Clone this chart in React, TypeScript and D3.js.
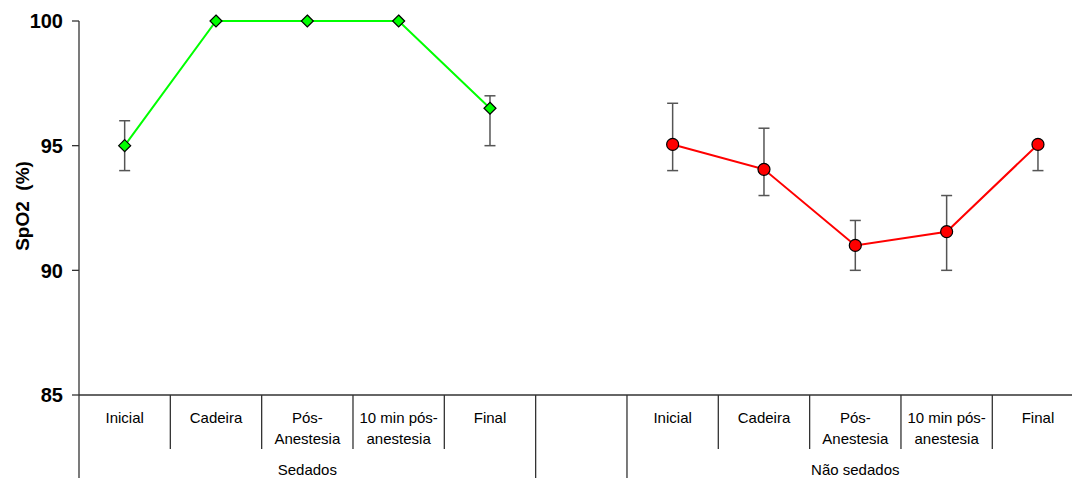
import React from "react";
import * as d3 from "d3";

const categories = ["S1", "S2", "S3", "S4", "S5", "GAP", "N1", "N2", "N3", "N4", "N5"];
const categoryLabels = [
  ["Inicial"], ["Cadeira"], ["Pós-", "Anestesia"], ["10 min pós-", "anestesia"], ["Final"],
  [""],
  ["Inicial"], ["Cadeira"], ["Pós-", "Anestesia"], ["10 min pós-", "anestesia"], ["Final"],
];
const groups = [
  { label: "Sedados", from: 0, to: 4 },
  { label: "", from: 5, to: 5 },
  { label: "Não sedados", from: 6, to: 10 },
];

const sedadosKeys = ["S1", "S2", "S3", "S4", "S5"];
const sedadosMean = [95, 100, 100, 100, 96.5];
const sedadosLow = [94, 100, 100, 100, 95];
const sedadosHigh = [96, 100, 100, 100, 97];

const naoKeys = ["N1", "N2", "N3", "N4", "N5"];
const naoMean = [95.05, 94.05, 91.0, 91.55, 95.05];
const naoLow = [94, 93, 90, 90, 94];
const naoHigh = [96.7, 95.7, 92, 93, 95.05];

const yTicks = [85, 90, 95, 100];

const W = 1072;
const H = 478;
const left = 79;
const band = 91.33;
const top = 21;
const bottom = 395;

export default function App() {
  const x = d3.scaleBand<string>().domain(categories).range([left, left + band * categories.length]).paddingInner(0).paddingOuter(0);
  const y = d3.scaleLinear().domain([85, 100]).range([bottom, top]);
  const cx = (k: string) => (x(k) as number) + x.bandwidth() / 2;
  const line = d3.line<[number, number]>().x((d) => d[0]).y((d) => d[1]);

  const sPts: [number, number][] = sedadosKeys.map((k, i) => [cx(k), y(sedadosMean[i])]);
  const nPts: [number, number][] = naoKeys.map((k, i) => [cx(k), y(naoMean[i])]);
  const font = "'Liberation Sans', Arial, sans-serif";
  const errColor = "#555";

  const errBars = (keys: string[], lo: number[], hi: number[]) =>
    keys.map((k, i) => {
      const c = cx(k);
      if (lo[i] === hi[i]) return null;
      return (
        <g key={k} stroke={errColor} strokeWidth={1.5}>
          <line x1={c} x2={c} y1={y(hi[i])} y2={y(lo[i])} />
          <line x1={c - 5.5} x2={c + 5.5} y1={y(hi[i])} y2={y(hi[i])} />
          <line x1={c - 5.5} x2={c + 5.5} y1={y(lo[i])} y2={y(lo[i])} />
        </g>
      );
    });

  const bx = (i: number) => x(categories[i]) as number;

  return (
    <div style={{ position: "absolute", left: 0, top: 0 }}>
      <svg width={W} height={H} style={{ display: "block" }} fontFamily={font}>
        <rect width={W} height={H} fill="#fff" />
        {/* y axis */}
        <line x1={left} x2={left} y1={top} y2={H} stroke="#333" strokeWidth={1.3} />
        {yTicks.map((t) => (
          <g key={t}>
            <line x1={left - 7} x2={left} y1={y(t)} y2={y(t)} stroke="#333" strokeWidth={1.3} />
            <text x={left - 16} y={y(t)} dy="0.36em" textAnchor="end" fontSize={20} fontWeight="bold" fill="#000">
              {t}
            </text>
          </g>
        ))}
        <text
          transform={`translate(29,${(top + bottom) / 2 - 2}) rotate(-90)`}
          textAnchor="middle"
          fontSize={19}
          fontWeight="bold"
          fill="#000"
          style={{ whiteSpace: "pre" }}
        >
          {"SpO2  (%)"}
        </text>
        {/* x axis */}
        <line x1={left} x2={left + band * categories.length} y1={bottom} y2={bottom} stroke="#333" strokeWidth={1.3} />
        {categories.map((k, i) =>
          i === 0 ? null : (
            <line key={k} x1={bx(i)} x2={bx(i)} y1={bottom} y2={[5, 6].includes(i) ? H : 449} stroke="#333" strokeWidth={1.3} />
          )
        )}
        {categories.map((k, i) => (
          <text key={k} x={cx(k)} y={423} textAnchor="middle" fontSize={15} fill="#000">
            {categoryLabels[i].map((s, j) => (
              <tspan key={j} x={cx(k)} dy={j === 0 ? 0 : 21}>
                {s}
              </tspan>
            ))}
          </text>
        ))}
        {groups.map((g) => {
          const a = bx(g.from);
          const b = bx(g.to) + x.bandwidth();
          return (
            <text key={g.from} x={(a + b) / 2} y={475} textAnchor="middle" fontSize={15} fill="#000">
              {g.label}
            </text>
          );
        })}
        {/* error bars */}
        {errBars(sedadosKeys, sedadosLow, sedadosHigh)}
        {errBars(naoKeys, naoLow, naoHigh)}
        {/* lines */}
        <path d={line(sPts) || ""} fill="none" stroke="#00FF00" strokeWidth={2} />
        <path d={line(nPts) || ""} fill="none" stroke="#FF0000" strokeWidth={2} />
        {/* markers */}
        {sPts.map(([px, py], i) => (
          <path
            key={i}
            d={`M${px},${py - 6}L${px + 6},${py}L${px},${py + 6}L${px - 6},${py}Z`}
            fill="#00FF00"
            stroke="#000"
            strokeWidth={1.2}
          />
        ))}
        {nPts.map(([px, py], i) => (
          <circle key={i} cx={px} cy={py} r={6} fill="#FF0000" stroke="#000" strokeWidth={1.2} />
        ))}
      </svg>
    </div>
  );
}
